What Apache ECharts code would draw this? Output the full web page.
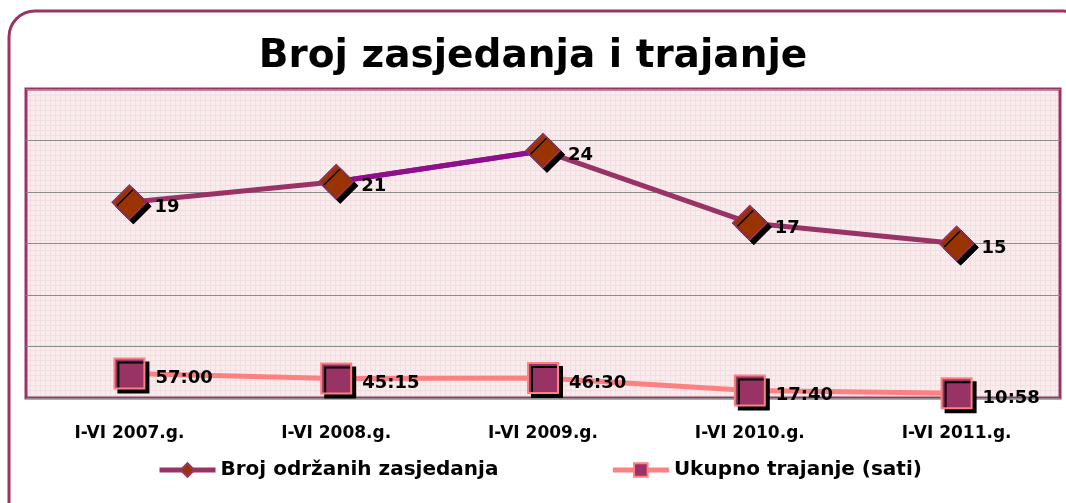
<!DOCTYPE html>
<html>
<head>
<meta charset="utf-8">
<script src="https://cdn.jsdelivr.net/npm/echarts@6/dist/echarts.min.js"></script>
<style>
  html, body { margin: 0; padding: 0; background: #fff; }
  #main { width: 1066px; height: 503px; }
</style>
</head>
<body>
<div id="main"></div>
<script>
// podaci
var periods = ['I-VI 2007.g.', 'I-VI 2008.g.', 'I-VI 2009.g.', 'I-VI 2010.g.', 'I-VI 2011.g.'];
var sessions = [19, 21, 24, 17, 15];
// trajanje u satima (57:00, 45:15, 46:30, 17:40, 10:58)
var durationHours = [57, 45.25, 46.5, 17 + 40 / 60, 10 + 58 / 60];
var durationLabels = ['57:00', '45:15', '46:30', '17:40', '10:58'];
// segment 2008-2009 is drawn in a different purple
var sessionsHighlight = [null, 21, 24, null, null];

// Excel plots time values as days
var durationDays = durationHours.map(function (h) { return h / 24; });

// pink grid paper pattern for the plot area
function makePattern() {
    var c = document.createElement('canvas');
    c.width = 5; c.height = 5;
    var ctx = c.getContext('2d');
    ctx.fillStyle = '#f8ecec';
    ctx.fillRect(0, 0, 5, 5);
    ctx.fillStyle = '#f4dee1';
    ctx.fillRect(0, 0, 5, 1);
    ctx.fillRect(0, 0, 1, 5);
    return c;
}

var font = '"DejaVu Sans", "Noto Sans", sans-serif';
var diamondStyle = {
    color: '#993300',
    borderColor: '#993366',
    borderWidth: 1.5,
    opacity: 1,
    shadowColor: '#000',
    shadowBlur: 0,
    shadowOffsetX: 4,
    shadowOffsetY: 4
};
var labelText = {
    fontFamily: font, fontSize: 18, fontWeight: 'bold', color: '#000',
    textBorderWidth: 0, textShadowBlur: 0, textShadowColor: 'transparent'
};

var chart = echarts.init(document.getElementById('main'));
chart.setOption({
    animation: false,
    title: {
        text: 'Broj zasjedanja i trajanje',
        left: 'center',
        top: 32,
        textStyle: { fontFamily: font, fontSize: 39, fontWeight: 'bold', color: '#000' }
    },
    graphic: [{
        type: 'rect',
        shape: { x: 9, y: 11, width: 1080, height: 530, r: 26 },
        style: { fill: 'none', stroke: '#9b3465', lineWidth: 3 },
        z: -1
    }],
    legend: {
        bottom: 18,
        left: 152,
        itemGap: 112,
        itemWidth: 56,
        itemHeight: 17,
        lineStyle: { width: 5 },
        data: ['Broj održanih zasjedanja', 'Ukupno trajanje (sati)'],
        textStyle: { fontFamily: font, fontSize: 20, fontWeight: 'bold', color: '#000' }
    },
    grid: {
        left: 26,
        right: 6,
        top: 89,
        bottom: 105,
        show: true,
        backgroundColor: { image: makePattern(), repeat: 'repeat' },
        borderColor: '#9b3465',
        borderWidth: 3
    },
    xAxis: {
        type: 'category',
        data: periods,
        axisLine: { show: false },
        axisTick: { show: false },
        axisLabel: {
            margin: 27,
            fontFamily: font, fontSize: 17, fontWeight: 'bold', color: '#000'
        }
    },
    yAxis: {
        type: 'value',
        min: 0,
        max: 30,
        interval: 5,
        axisLabel: { show: false },
        axisLine: { show: false },
        axisTick: { show: false },
        splitLine: { lineStyle: { color: '#8c8c8c', width: 1 } }
    },
    series: [
        {
            name: 'Broj održanih zasjedanja',
            type: 'line',
            data: sessions,
            symbol: 'diamond',
            symbolSize: 34,
            z: 2,
            lineStyle: { color: '#993366', width: 5 },
            itemStyle: diamondStyle
        },
        {
            name: 'segment 2008-2009',
            type: 'line',
            data: sessionsHighlight,
            symbol: 'none',
            z: 3,
            lineStyle: { color: '#8e0e8e', width: 5 }
        },
        {
            // markers on top of the purple segment
            name: 'markeri',
            type: 'scatter',
            data: sessions,
            symbol: 'diamond',
            symbolSize: 34,
            z: 4,
            itemStyle: diamondStyle
        },
        {
            // value labels, drawn without shadow
            name: 'oznake',
            type: 'scatter',
            data: sessions,
            symbolSize: 34,
            z: 5,
            itemStyle: { color: 'transparent', borderWidth: 0, opacity: 1 },
            label: Object.assign({
                show: true,
                position: 'right',
                distance: 2,
                offset: [6, 5]
            }, labelText)
        },
        {
            name: 'Ukupno trajanje (sati)',
            type: 'line',
            data: durationDays,
            symbol: 'rect',
            symbolSize: 30,
            z: 3,
            lineStyle: { color: '#ff8080', width: 5 },
            itemStyle: {
                color: '#993366',
                borderColor: '#ff8080',
                borderWidth: 2,
                shadowColor: '#000',
                shadowBlur: 0,
                shadowOffsetX: 4,
                shadowOffsetY: 4
            },
            label: Object.assign({
                show: true,
                position: 'right',
                distance: 8,
                offset: [2, 5],
                formatter: function (p) { return durationLabels[p.dataIndex]; }
            }, labelText)
        }
    ]
});
</script>
</body>
</html>
